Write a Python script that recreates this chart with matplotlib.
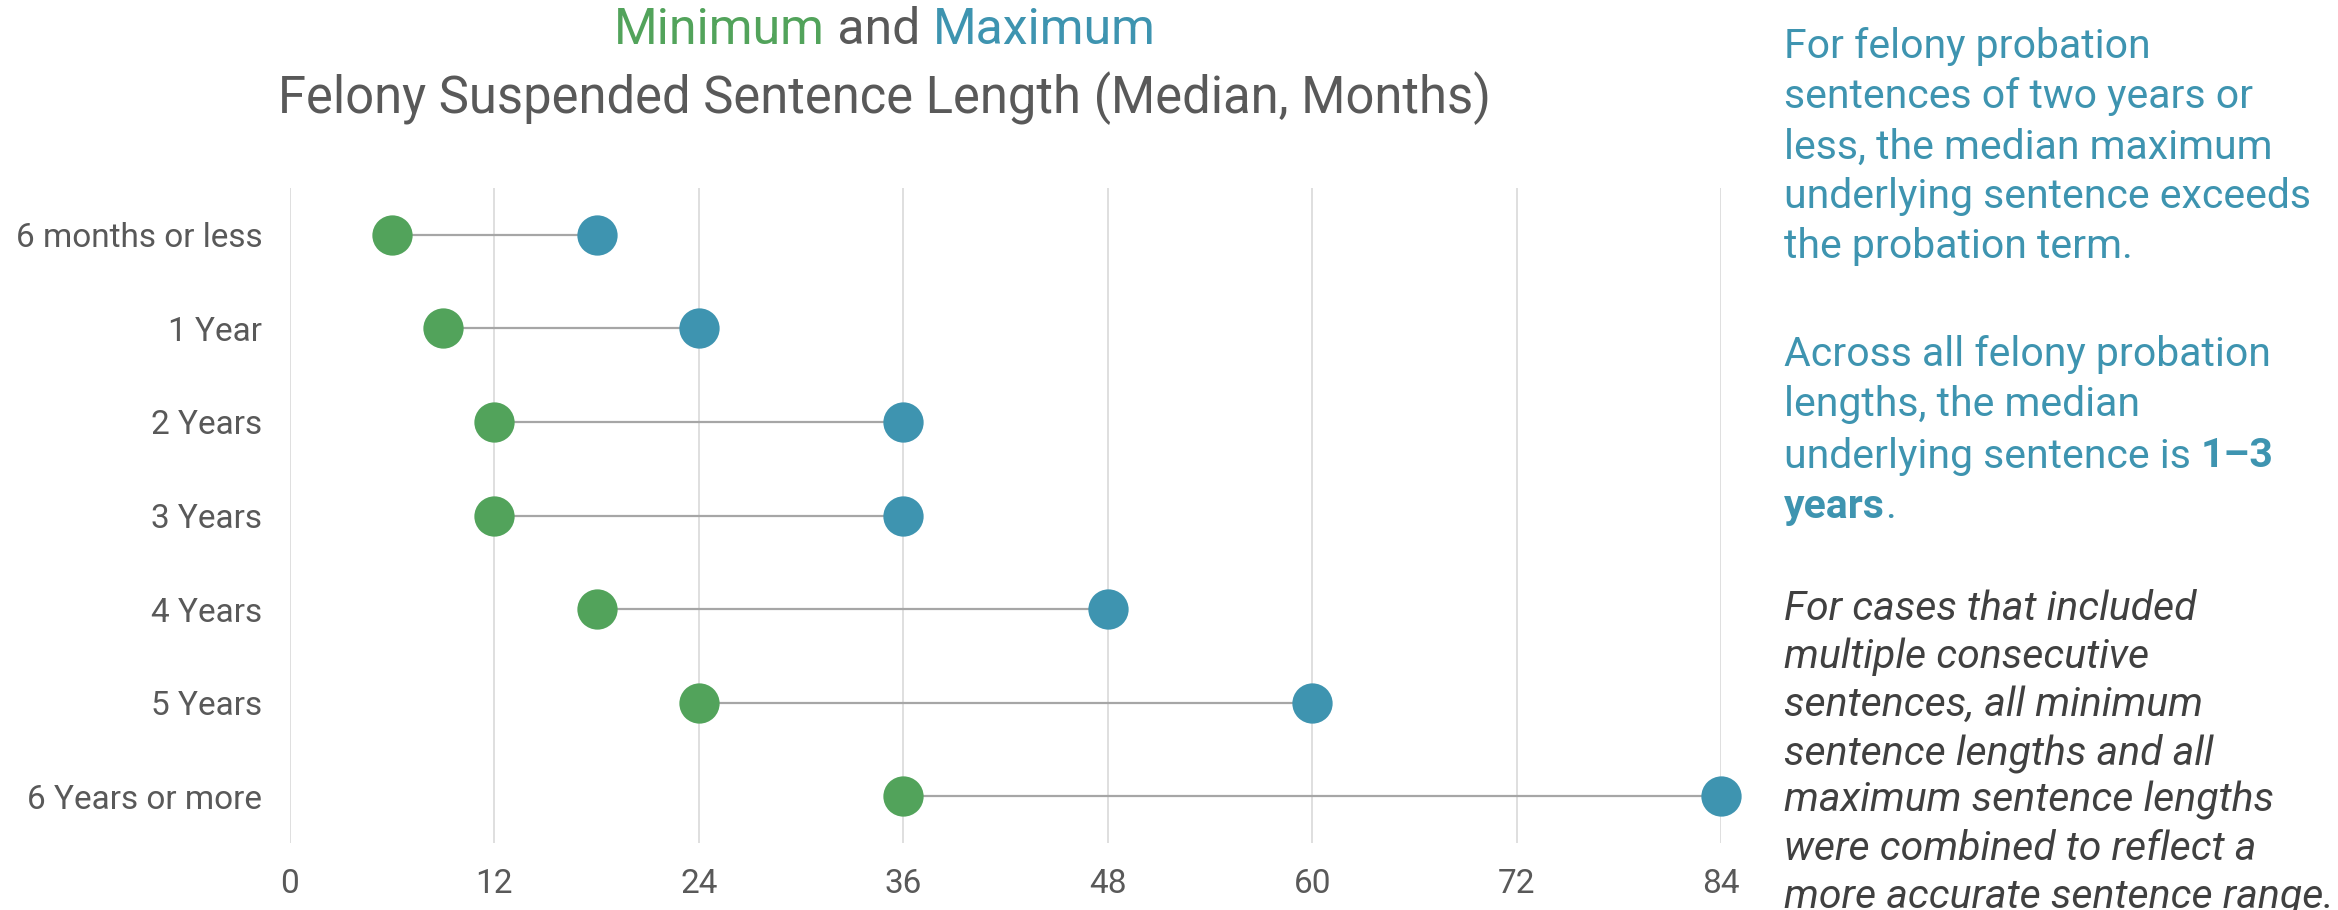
import matplotlib
matplotlib.use("Agg")
import matplotlib.pyplot as plt
import numpy as np

categories = ["6 months or less", "1 Year", "2 Years", "3 Years", "4 Years", "5 Years", "6 Years or more"]
min_months = [6, 9, 12, 12, 18, 24, 36]
max_months = [18, 24, 36, 36, 48, 60, 84]
x_ticks = [0, 12, 24, 36, 48, 60, 72, 84]

GREEN = "#52A35B"
TEAL = "#3E94B0"
GRAY = "#595959"
FONT = "Roboto"

plt.rcParams['font.family'] = [FONT, 'DejaVu Sans']

W, H = 2338, 910
fig = plt.figure(figsize=(W / 100, H / 100), dpi=100)
ax = fig.add_axes([290 / W, 1 - 843 / H, 1431 / W, 655 / H])

y = np.arange(len(categories))
ax.hlines(y, min_months, max_months, color="#A6A6A6", lw=1.6, zorder=2)
ax.scatter(min_months, y, s=29 ** 2, color=GREEN, zorder=3, linewidths=0, clip_on=False)
ax.scatter(max_months, y, s=29 ** 2, color=TEAL, zorder=3, linewidths=0, clip_on=False)

ax.set_xlim(0, 84)
ax.set_ylim(len(categories) - 0.5, -0.5)
ax.set_xticks(x_ticks)
ax.set_xticklabels([str(t) for t in x_ticks])
ax.set_yticks(y)
ax.set_yticklabels(categories)
ax.tick_params(axis='both', length=0, labelsize=24, labelcolor=GRAY)
ax.tick_params(axis='y', pad=20)
ax.tick_params(axis='x', pad=18)
ax.grid(axis='x', color="#D9D9D9", lw=1.2, zorder=0)
ax.set_axisbelow(True)
for s in ax.spines.values():
    s.set_visible(False)

fig.canvas.draw()
renderer = fig.canvas.get_renderer()

def colored_line(parts, xc, yc, size, **kw):
    texts = []
    for txt, col, weight in parts:
        t = fig.text(0, yc, txt, color=col, fontsize=size, fontweight=weight,
                     va='center', ha='left', transform=None, **kw)
        texts.append(t)
    widths = [t.get_window_extent(renderer).width for t in texts]
    total = sum(widths)
    x = xc - total / 2
    for t, w in zip(texts, widths):
        t.set_position((x, yc))
        x += w
    return texts

# Title (pixel coordinates, y from bottom)
colored_line([("Minimum", GREEN, "normal"), (" and ", GRAY, "normal"), ("Maximum", TEAL, "normal")],
             885, H - 30, 36)
fig.text(885 / W, 1 - 98 / H, "Felony Suspended Sentence Length (Median, Months)",
         color=GRAY, fontsize=36.5, ha='center', va='center')

# Right annotation
X0 = 1784
def left_line(parts, yc, size=29.5, style='normal'):
    x = X0
    for txt, col, weight in parts:
        t = fig.text(x, H - yc, txt, color=col, fontsize=size, fontweight=weight,
                     fontstyle=style, va='center', ha='left', transform=None)
        x += t.get_window_extent(renderer).width

p1 = ["For felony probation", "sentences of two years or", "less, the median maximum",
      "underlying sentence exceeds", "the probation term."]
for i, line in enumerate(p1):
    left_line([(line, TEAL, "normal")], 47 + 50 * i)

p2 = [[("Across all felony probation", TEAL, "normal")],
      [("lengths, the median", TEAL, "normal")],
      [("underlying sentence is ", TEAL, "normal"), ("1\u20133", TEAL, "bold")],
      [("years", TEAL, "bold"), (".", TEAL, "normal")]]
for i, parts in enumerate(p2):
    left_line(parts, 354 + 51 * i)

p3 = ["For cases that included", "multiple consecutive", "sentences, all minimum",
      "sentence lengths and all", "maximum sentence lengths", "were combined to reflect a",
      "more accurate sentence range."]
for i, line in enumerate(p3):
    left_line([(line, "#404040", "normal")], 609 + 48 * i, style='italic')

fig.savefig("out.png", dpi=100)
